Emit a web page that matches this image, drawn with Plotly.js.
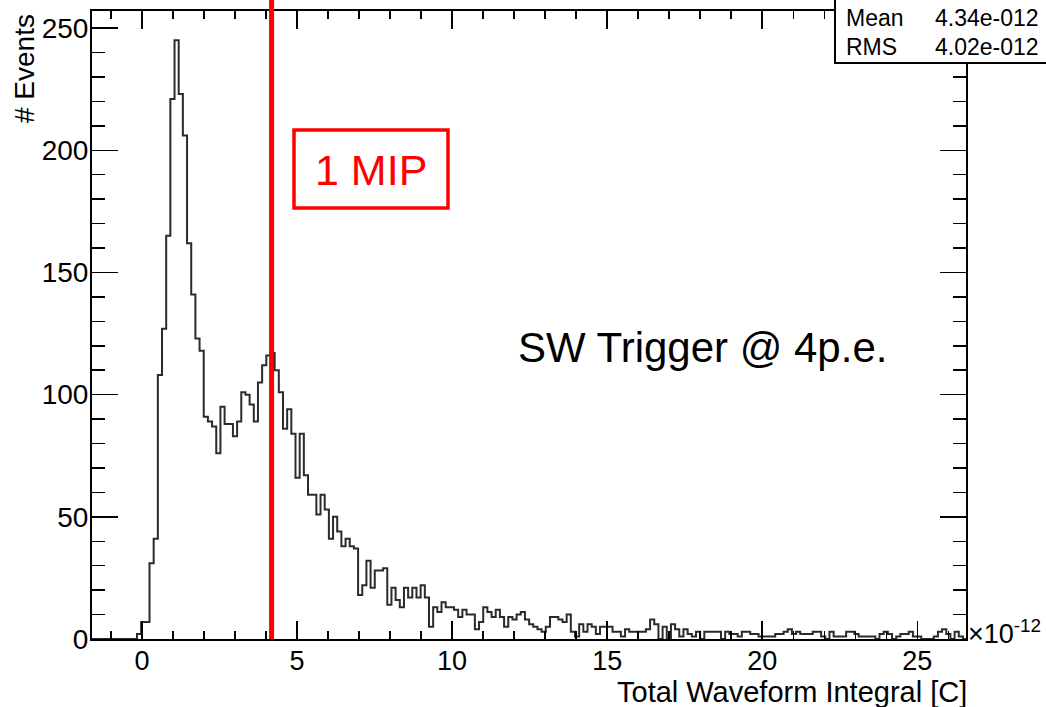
<!DOCTYPE html>
<html>
<head>
<meta charset="utf-8">
<script src="https://cdn.plot.ly/plotly-3.0.1.min.js"></script>
<style>
html,body{margin:0;padding:0;background:#fff;}
#chart{width:1046px;height:707px;}
</style>
</head>
<body>
<div id="chart"></div>
<script>
// Histogram binning (x in units of 1e-12 C)
const binStart = -1.639;
const binWidth = 0.1345;
// Bin contents (# Events)
const counts = [
  0,0,0,0,0,0,0,0,0,0,0,2,
  7,7,31,41,108,127,165,221,245,223,
  206,162,141,123,118,91,89,87,76,95,
  88,88,83,89,101,100,96,89,105,112,
  116,117,110,101,86,94,84,66,84,67,
  59,59,51,59,53,41,50,44,38,41,
  38,37,18,22,32,21,28,28,29,14,
  21,16,13,21,17,21,17,22,17,5,
  13,11,15,13,13,12,9,12,10,10,
  4,7,13,11,9,12,9,5,9,8,
  10,11,8,6,5,4,3,5,9,9,
  8,7,10,3,1,6,3,6,5,2,
  5,5,5,3,3,1,4,3,3,3,
  3,4,8,6,0,5,0,6,4,1,
  4,2,1,3,0,3,3,3,3,0,
  3,2,2,1,3,3,2,2,1,1,
  1,1,2,2,3,4,2,3,2,2,
  2,3,3,1,0,3,1,1,1,3,
  3,2,1,1,1,1,0,2,3,2,
  0,1,2,2,3,1,1,0,0,0,
  1,3,4,2,0,3,1,0
];
const xTickVals = [0, 5, 10, 15, 20, 25];
const xTickText = ["0", "5", "10", "15", "20", "25"];
const yTickVals = [0, 50, 100, 150, 200, 250];
const mipValue = 4.18;           // 1 MIP marker (x 1e-12 C)
const statLabels = ["Mean", "RMS"];
const statValues = ["4.34e-012", "4.02e-012"];

// Build step outline from the bins
const xs = [], ys = [];
for (let i = 0; i < counts.length; i++) {
  xs.push(binStart + i * binWidth);
  ys.push(counts[i]);
}
xs.push(binStart + counts.length * binWidth);
ys.push(counts[counts.length - 1]);

const W = 1046, H = 707;
const L = 92, R = 80, T = 11, B = 68;
const pw = W - L - R, ph = H - T - B;
const px = v => (v - L) / pw;          // pixel -> paper x
const py = v => (H - B - v) / ph;      // pixel -> paper y

const font = "Liberation Sans, Arial, Helvetica, sans-serif";

const trace = {
  type: 'scatter', mode: 'lines',
  x: xs, y: ys,
  line: {shape: 'hv', color: '#2b2b2b', width: 2},
  hoverinfo: 'skip', showlegend: false
};

const layout = {
  width: W, height: H,
  margin: {l: L, r: R, t: T, b: B, pad: 0},
  paper_bgcolor: '#fff', plot_bgcolor: '#fff',
  showlegend: false,
  font: {family: font, color: '#000'},
  xaxis: {
    range: [-1.61, 26.57],
    tickmode: 'array', tickvals: xTickVals, ticktext: xTickText,
    ticks: 'inside', ticklen: 18, tickwidth: 1.5, tickcolor: '#000',
    minor: {dtick: 1, tick0: 0, ticks: 'inside', ticklen: 8, tickwidth: 1.5, tickcolor: '#000', showgrid: false},
    showline: true, linecolor: '#000', linewidth: 2, mirror: 'allticks',
    showgrid: false, zeroline: false,
    tickfont: {size: 27, family: font, color: '#000'},
    ticklabelstandoff: -3
  },
  yaxis: {
    range: [0, 257],
    tickmode: 'array', tickvals: yTickVals,
    ticks: 'inside', ticklen: 26, tickwidth: 1.5, tickcolor: '#000',
    minor: {dtick: 10, tick0: 0, ticks: 'inside', ticklen: 13, tickwidth: 1.5, tickcolor: '#000', showgrid: false},
    showline: true, linecolor: '#000', linewidth: 2, mirror: 'allticks',
    showgrid: false, zeroline: false,
    tickfont: {size: 28, family: font, color: '#000'},
    ticklabelstandoff: -4
  },
  shapes: [
    {type: 'line', xref: 'x', yref: 'paper', x0: mipValue, x1: mipValue, y0: 0, y1: py(-2),
     line: {color: '#ff0000', width: 5}, layer: 'above'},
    {type: 'rect', xref: 'paper', yref: 'paper', x0: px(294), x1: px(448), y0: py(208), y1: py(130),
     line: {color: '#ff0000', width: 3.5}, fillcolor: '#fff', layer: 'above'},
    {type: 'rect', xref: 'paper', yref: 'paper', x0: px(835), x1: px(1060), y0: py(63), y1: py(-10),
     line: {color: '#000', width: 2}, fillcolor: '#fff', layer: 'above'}
  ],
  annotations: [
    {xref: 'paper', yref: 'paper', x: px(25), y: py(69), text: '# Events', textangle: -90,
     showarrow: false, xanchor: 'center', yanchor: 'middle', font: {size: 28, family: font, color: '#000'}},
    {xref: 'paper', yref: 'paper', x: px(969), y: py(692), text: 'Total Waveform Integral [C]',
     showarrow: false, xanchor: 'right', yanchor: 'middle', font: {size: 29, family: font, color: '#000'}},
    {xref: 'paper', yref: 'paper', x: px(966), y: py(632), text: '×10<sup>-12</sup>',
     showarrow: false, xanchor: 'left', yanchor: 'middle', font: {size: 27, family: font, color: '#000'}},
    {xref: 'paper', yref: 'paper', x: px(371), y: py(170), text: '1 MIP',
     showarrow: false, xanchor: 'center', yanchor: 'middle', font: {size: 43, family: font, color: '#ff0000'}},
    {xref: 'paper', yref: 'paper', x: px(702), y: py(347), text: 'SW Trigger @ 4p.e.',
     showarrow: false, xanchor: 'center', yanchor: 'middle', font: {size: 42, family: font, color: '#000'}},
    {xref: 'paper', yref: 'paper', x: px(844), y: py(18), text: statLabels[0],
     showarrow: false, xanchor: 'left', yanchor: 'middle', font: {size: 23, family: font, color: '#000'}},
    {xref: 'paper', yref: 'paper', x: px(1041), y: py(18), text: statValues[0],
     showarrow: false, xanchor: 'right', yanchor: 'middle', font: {size: 23, family: font, color: '#000'}},
    {xref: 'paper', yref: 'paper', x: px(844), y: py(47), text: statLabels[1],
     showarrow: false, xanchor: 'left', yanchor: 'middle', font: {size: 23, family: font, color: '#000'}},
    {xref: 'paper', yref: 'paper', x: px(1041), y: py(47), text: statValues[1],
     showarrow: false, xanchor: 'right', yanchor: 'middle', font: {size: 23, family: font, color: '#000'}}
  ]
};

Plotly.newPlot('chart', [trace], layout, {displayModeBar: false, staticPlot: true});
</script>
</body>
</html>
